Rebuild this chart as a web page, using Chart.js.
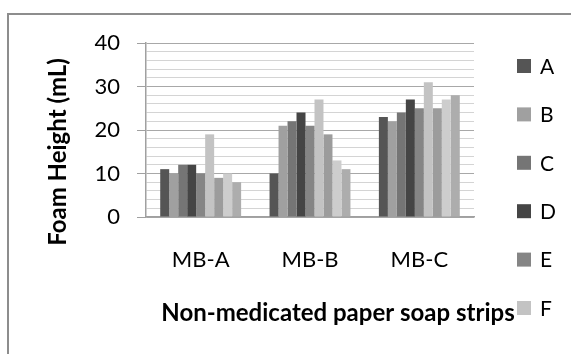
<!DOCTYPE html>
<html>
<head>
<meta charset="utf-8">
<script src="https://cdn.jsdelivr.net/npm/chart.js@4"></script>
<style>
  html, body { margin: 0; padding: 0; background: #fff; overflow: hidden; }
  #moldura { position: absolute; left: 7px; top: 13px; width: 640px; height: 420px; border: 2px solid #8d8d8d; }
  #caixa { position: absolute; left: 0; top: 0; width: 571px; height: 354px; }
</style>
</head>
<body>
<div id="moldura"></div>
<div id="caixa"><canvas id="graficoEspuma" width="571" height="354"></canvas></div>
<script>
const categorias = ['MB-A', 'MB-B', 'MB-C'];
const series = ['A', 'B', 'C', 'D', 'E', 'F', 'G', 'H', 'I'];

const valoresA = [11, 10, 23];
const valoresB = [10, 21, 22];
const valoresC = [12, 22, 24];
const valoresD = [12, 24, 27];
const valoresE = [10, 21, 25];
const valoresF = [19, 27, 31];
const valoresG = [9, 19, 25];
const valoresH = [10, 13, 27];
const valoresI = [8, 11, 28];

const valores = [valoresA, valoresB, valoresC, valoresD, valoresE, valoresF, valoresG, valoresH, valoresI];
const cores = ['#555555', '#a0a0a0', '#757575', '#454545', '#858585', '#c3c3c3', '#9c9c9c', '#cdcdcd', '#adadad'];

const tituloX = 'Non-medicated paper soap strips';
const tituloY = 'Foam Height (mL)';

const FONTE = "Lato, 'Liberation Sans', Arial, sans-serif";
Chart.defaults.font.family = FONTE;
Chart.defaults.color = '#000';

// legenda numa coluna só; o que passa da borda de baixo fica cortado
const legendaManual = {
  id: 'legendaManual',
  afterDraw(chart) {
    const ctx = chart.ctx;
    ctx.save();
    ctx.beginPath();
    ctx.rect(0, 0, chart.width, 340);
    ctx.clip();
    ctx.font = '21px ' + FONTE;
    ctx.textBaseline = 'middle';
    ctx.textAlign = 'left';
    chart.data.datasets.forEach((ds, i) => {
      const y = 66 + i * 48.4;
      ctx.fillStyle = ds.backgroundColor;
      ctx.fillRect(517, y - 7, 14, 14);
      ctx.fillStyle = '#000';
      ctx.fillText(ds.label, 540, y + 1);
    });
    ctx.restore();
  }
};

// títulos dos eixos, posicionados fora do centro da área do gráfico
const titulosEixos = {
  id: 'titulosEixos',
  afterDraw(chart) {
    const ctx = chart.ctx;
    ctx.save();
    ctx.fillStyle = '#000';
    ctx.font = 'bold 24px ' + FONTE;
    ctx.textAlign = 'center';
    ctx.textBaseline = 'alphabetic';
    ctx.fillText(tituloX, 338, 321);
    ctx.translate(58, 152);
    ctx.rotate(-Math.PI / 2);
    ctx.textBaseline = 'middle';
    ctx.fillText(tituloY, 0, 0);
    ctx.restore();
  }
};

new Chart(document.getElementById('graficoEspuma'), {
  type: 'bar',
  data: {
    labels: categorias,
    datasets: series.map((nome, i) => ({
      label: nome,
      data: valores[i],
      backgroundColor: cores[i],
      barPercentage: 1,
      categoryPercentage: 0.74
    }))
  },
  options: {
    responsive: false,
    animation: false,
    devicePixelRatio: 1,
    layout: { padding: { top: 43, right: 97, left: 0, bottom: 0 } },
    plugins: {
      legend: { display: false },
      tooltip: { enabled: false }
    },
    scales: {
      x: {
        afterFit(scale) { scale.height = 137; },
        grid: { display: false },
        border: { display: true, color: '#a0a0a0', width: 1.5 },
        ticks: {
          font: { size: 22 },
          color: '#000',
          padding: 22
        }
      },
      y: {
        min: 0,
        max: 40,
        afterFit(scale) { scale.width = 146; },
        border: { display: true, color: '#a0a0a0', width: 1.5 },
        grid: {
          color: c => (c.tick && c.tick.value % 10 === 0) ? '#a8a8a8' : '#d4d4d4',
          tickColor: c => (c.tick && c.tick.value % 10 === 0) ? '#a0a0a0' : 'rgba(0,0,0,0)',
          tickLength: 9
        },
        ticks: {
          stepSize: 2,
          autoSkip: false,
          font: { size: 22 },
          color: '#000',
          padding: 17,
          callback: v => (v % 10 === 0 ? v : '')
        }
      }
    }
  },
  plugins: [legendaManual, titulosEixos]
});
</script>
</body>
</html>
